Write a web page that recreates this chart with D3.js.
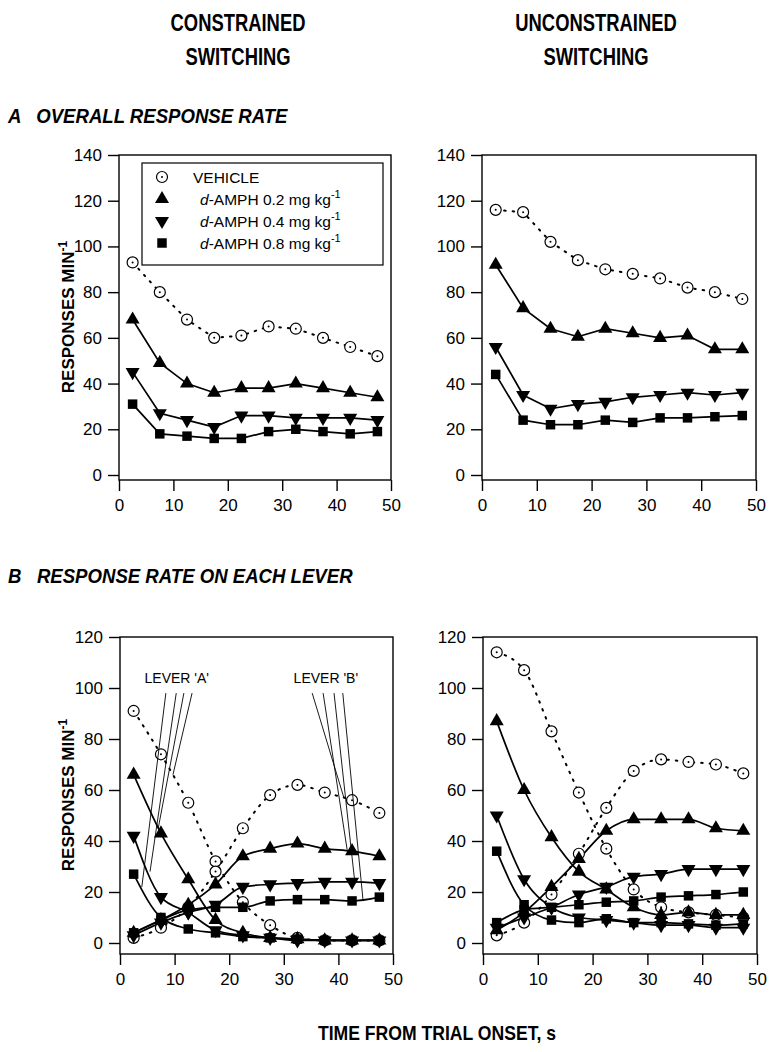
<!DOCTYPE html>
<html>
<head>
<meta charset="utf-8">
<script src="https://cdn.jsdelivr.net/npm/d3@7"></script>
<style>
  body { margin: 0; background: #fff; }
  svg { display: block; font-family: "Liberation Sans", Arial, sans-serif; }
</style>
</head>
<body>
<svg id="chart" width="783" height="1052"></svg>
<script>
// time bins (s)
var times = [2.5, 7.5, 12.5, 17.5, 22.5, 27.5, 32.5, 37.5, 42.5, 47.5];
var xTicks = [0, 10, 20, 30, 40, 50];
var yTicksA = [0, 20, 40, 60, 80, 100, 120, 140];
var yTicksB = [0, 20, 40, 60, 80, 100, 120];

var legendLabels = ['VEHICLE', '0.2', '0.4', '0.8'];

// A: overall response rate, constrained
var aConVehicle = [93, 80, 68, 60, 61, 65, 64, 60, 56, 52];
var aConD02 = [68, 49, 40, 36, 38, 38, 40, 38, 36, 34];
var aConD04 = [45, 27, 24, 21, 26, 26, 25, 25, 25, 24];
var aConD08 = [31, 18, 17, 16, 16, 19, 20, 19, 18, 19];

// A: overall response rate, unconstrained
var aUncVehicle = [116, 115, 102, 94, 90, 88, 86, 82, 80, 77];
var aUncD02 = [92, 73, 64, 60.5, 64, 62, 60, 61, 55, 55];
var aUncD04 = [56, 35, 29, 31, 32, 34, 35, 36, 35, 36];
var aUncD08 = [44, 24, 22, 22, 24, 23, 25, 25, 25.5, 26];

// B: each lever, constrained (lever A falls, lever B rises)
var bConVehicleA = [91, 74, 55, 32, 16, 7, 2, 1, 1, 1];
var bConVehicleB = [2, 6, 14, 28, 45, 58, 62, 59, 56, 51];
var bConD02A = [66, 43, 25, 9, 4, 2, 1.5, 1, 1, 1];
var bConD02B = [4, 9, 15, 23, 34, 37, 39, 37, 36, 34];
var bConD04A = [42, 18, 12, 5, 3, 2, 1, 1, 1, 1];
var bConD04B = [3, 8, 12, 15, 22, 23, 23.5, 24, 24, 23.5];
var bConD08A = [27, 10, 5.5, 4, 2.5, 2, 1.5, 1, 1, 1];
var bConD08B = [4, 9, 13, 14, 14, 16.5, 17, 17, 16.5, 18];

// B: each lever, unconstrained
var bUncVehicleA = [114, 107, 83, 59, 37, 21, 14, 12, 11, 10];
var bUncVehicleB = [3, 8, 19, 35, 53, 67.5, 72, 71, 70, 66.5];
var bUncD02A = [87, 60, 41.5, 28, 21, 14, 11, 12, 11, 11];
var bUncD02B = [5, 12, 22, 33, 44, 48.5, 48.5, 48.5, 45, 44];
var bUncD04A = [50, 25, 14, 10, 9, 8, 7, 7, 6, 6];
var bUncD04B = [6, 10, 14, 19, 22, 26, 27, 29, 29, 29];
var bUncD08A = [36, 15, 9, 8, 9.5, 8, 8, 7.5, 7, 7.5];
var bUncD08B = [8, 13, 14, 15, 16, 16.5, 18, 18.5, 19, 20];

// lever annotations (data units of the constrained panel B)
var leverAText = [10.4, 102];
var leverAStartX = [8.4, 10.3, 11.7, 13.2];
var leverAEnd = [[4.0, 22], [5.5, 28], [7.0, 45], [9.7, 66]];
var leverBText = [37.7, 102];
var leverBStartX = [35.2, 37.2, 39.2, 40.8];
var leverBEnd = [[41.0, 57], [41.6, 36.6], [43.0, 24], [44.5, 17]];
var leverStartY = 98;

var svg = d3.select('#chart');

var markerKinds = ['circle', 'up', 'down', 'square'];

function drawMarker(g, kind, x, y) {
    if (kind === 'circle') {
        g.append('circle').attr('cx', x).attr('cy', y).attr('r', 5.5)
            .attr('fill', '#fff').attr('stroke', '#000').attr('stroke-width', 1.2);
        g.append('circle').attr('cx', x).attr('cy', y).attr('r', 1)
            .attr('fill', '#000');
    } else if (kind === 'square') {
        g.append('path').attr('d', d3.symbol(d3.symbolSquare, 90)())
            .attr('transform', 'translate(' + x + ',' + y + ')').attr('fill', '#000');
    } else {
        var rot = kind === 'down' ? 180 : 0;
        g.append('path').attr('d', d3.symbol(d3.symbolTriangle, 85)())
            .attr('transform', 'translate(' + x + ',' + y + ') rotate(' + rot + ')')
            .attr('fill', '#000');
    }
}

function drawPanel(opts) {
    var x = d3.scaleLinear().domain([0, 50]).range(opts.xRange);
    var y = d3.scaleLinear().domain([0, opts.yMax]).range([opts.y0, opts.yTop]);
    var g = svg.append('g');
    var left = opts.xRange[0], right = opts.xRange[1];

    // frame
    g.append('rect')
        .attr('x', left).attr('y', opts.yTop)
        .attr('width', right - left).attr('height', opts.frameBottom - opts.yTop)
        .attr('fill', 'none').attr('stroke', '#000').attr('stroke-width', 1.4);

    // y axis
    var yAxis = d3.axisLeft(y).tickValues(opts.yTicks).tickSize(11).tickPadding(6).tickSizeOuter(0);
    var ya = g.append('g').attr('transform', 'translate(' + left + ',0)').call(yAxis);
    ya.select('.domain').remove();
    ya.selectAll('line').attr('stroke-width', 1.4);
    ya.selectAll('text').attr('font-size', 17).attr('font-family', '"Liberation Sans", Arial, sans-serif').attr('fill', '#000');

    // x axis
    var xAxis = d3.axisBottom(x).tickValues(xTicks).tickSize(11).tickPadding(8).tickSizeOuter(0);
    var xa = g.append('g').attr('transform', 'translate(0,' + opts.frameBottom + ')').call(xAxis);
    xa.select('.domain').remove();
    xa.selectAll('line').attr('stroke-width', 1.4);
    xa.selectAll('text').attr('font-size', 17).attr('font-family', '"Liberation Sans", Arial, sans-serif').attr('fill', '#000');

    var curve = opts.smooth ? d3.curveMonotoneX : d3.curveLinear;
    var line = d3.line()
        .x(function(d, i) { return x(times[i]); })
        .y(function(d) { return y(d); })
        .curve(curve);

    // lines first, dotted vehicle, solid drugs
    opts.series.forEach(function(s) {
        g.append('path').datum(s.values).attr('d', line)
            .attr('fill', 'none').attr('stroke', '#000')
            .attr('stroke-width', s.kind === 'circle' ? 2 : 1.7)
            .attr('stroke-dasharray', s.kind === 'circle' ? '1.5 7' : null)
            .attr('stroke-linecap', 'round');
    });
    opts.series.forEach(function(s) {
        s.values.forEach(function(v, i) {
            drawMarker(g, s.kind, x(times[i]), y(v));
        });
    });

    return { g: g, x: x, y: y };
}

function series(vals) {
    return vals.map(function(v, i) { return { kind: markerKinds[i % 4], values: v }; });
}

var pAL = drawPanel({ xRange: [119, 391], yTop: 155, y0: 475, frameBottom: 480, yMax: 140, yTicks: yTicksA,
    series: series([aConVehicle, aConD02, aConD04, aConD08]) });
var pAR = drawPanel({ xRange: [482, 756], yTop: 155, y0: 475, frameBottom: 480, yMax: 140, yTicks: yTicksA,
    series: series([aUncVehicle, aUncD02, aUncD04, aUncD08]) });
var pBL = drawPanel({ xRange: [120, 393], yTop: 637, y0: 943, frameBottom: 954, yMax: 120, yTicks: yTicksB, smooth: true,
    series: series([bConVehicleA, bConD02A, bConD04A, bConD08A]).concat(series([bConVehicleB, bConD02B, bConD04B, bConD08B])) });
var pBR = drawPanel({ xRange: [483, 757], yTop: 637, y0: 943, frameBottom: 954, yMax: 120, yTicks: yTicksB, smooth: true,
    series: series([bUncVehicleA, bUncD02A, bUncD04A, bUncD08A]).concat(series([bUncVehicleB, bUncD02B, bUncD04B, bUncD08B])) });

// legend in constrained panel A
var leg = pAL.g.append('g');
leg.append('rect').attr('x', 142).attr('y', 163).attr('width', 241).attr('height', 102)
    .attr('fill', '#fff').attr('stroke', '#000').attr('stroke-width', 1.2);
legendLabels.forEach(function(lab, i) {
    var cy = 177 + i * 22;
    drawMarker(leg, markerKinds[i], 162, cy);
    var t = leg.append('text').attr('y', cy + 6).attr('font-size', 15.5).attr('fill', '#000');
    if (i === 0) {
        t.attr('x', 193).text(lab);
    } else {
        t.attr('x', 200);
        t.append('tspan').attr('font-style', 'italic').text('d');
        t.append('tspan').text('-AMPH ' + lab + ' mg kg');
        t.append('tspan').attr('font-size', 11).attr('dy', -7).text('-1');
    }
});

// lever annotations
function leverNote(p, textPos, label, startX, ends) {
    p.g.append('text').attr('x', p.x(textPos[0])).attr('y', p.y(textPos[1]))
        .attr('text-anchor', 'middle').attr('font-size', 14).attr('fill', '#000').text(label);
    startX.forEach(function(sx, i) {
        p.g.append('line')
            .attr('x1', p.x(sx)).attr('y1', p.y(leverStartY))
            .attr('x2', p.x(ends[i][0])).attr('y2', p.y(ends[i][1]))
            .attr('stroke', '#000').attr('stroke-width', 0.9);
    });
}
leverNote(pBL, leverAText, "LEVER 'A'", leverAStartX, leverAEnd);
leverNote(pBL, leverBText, "LEVER 'B'", leverBStartX, leverBEnd);

// condensed bold text via horizontal scaling
function condensed(x, y, txt, size, sx, anchor, italic) {
    svg.append('text')
        .attr('transform', 'translate(' + x + ',' + y + ') scale(' + sx + ',1)')
        .attr('text-anchor', anchor).attr('font-size', size).attr('font-weight', 'bold')
        .attr('font-style', italic ? 'italic' : 'normal').attr('xml:space', 'preserve')
        .attr('fill', '#000').text(txt);
}
condensed(238, 31, 'CONSTRAINED', 23, 0.8, 'middle');
condensed(238, 65, 'SWITCHING', 23, 0.8, 'middle');
condensed(596, 31, 'UNCONSTRAINED', 23, 0.8, 'middle');
condensed(596, 65, 'SWITCHING', 23, 0.8, 'middle');
condensed(8, 123, 'A   OVERALL RESPONSE RATE', 20, 0.93, 'start', true);
condensed(8, 583, 'B   RESPONSE RATE ON EACH LEVER', 20, 0.93, 'start', true);

// y axis titles
[[317], [795]].forEach(function(c) {
    var t = svg.append('text').attr('transform', 'translate(74,' + c[0] + ') rotate(-90)')
        .attr('text-anchor', 'middle').attr('font-size', 17).attr('font-weight', 'bold').attr('fill', '#000');
    t.append('tspan').text('RESPONSES MIN');
    t.append('tspan').attr('font-size', 12).attr('dy', -7).text('-1');
});

// x axis title
condensed(437, 1040, 'TIME FROM TRIAL ONSET, s', 20, 0.88, 'middle');
</script>
</body>
</html>
